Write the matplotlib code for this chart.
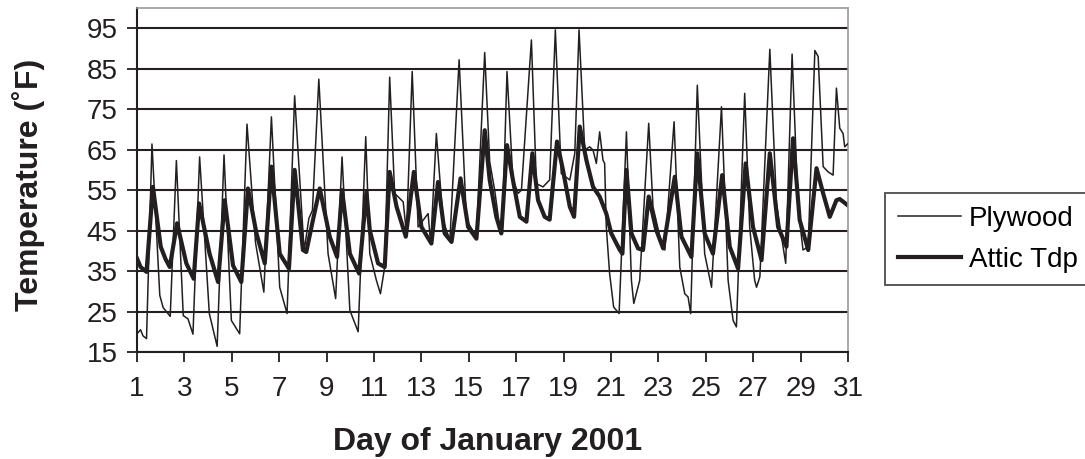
import matplotlib
matplotlib.use("Agg")
import matplotlib.pyplot as plt

plt.rcParams['font.family'] = ['Liberation Sans', 'DejaVu Sans']

ply_day = [1.00, 1.15, 1.25, 1.40, 1.63, 1.96, 2.10, 2.40, 2.66, 2.95, 3.15, 3.36, 3.64, 4.05, 4.38,
           4.67, 4.98, 5.33, 5.64, 6.00, 6.35, 6.67, 7.02, 7.33, 7.65, 8.05, 8.25, 8.40, 8.67, 9.06,
           9.38, 9.65, 9.98, 10.33, 10.65, 10.82, 11.10, 11.27, 11.45, 11.66, 11.87, 12.23, 12.37,
           12.61, 12.86, 13.28, 13.39, 13.63, 13.91, 14.20, 14.59, 14.90, 15.32, 15.67, 15.88, 16.09,
           16.30, 16.41, 16.61, 16.86, 17.08, 17.22, 17.64, 17.85, 18.13, 18.41, 18.65, 18.90, 19.26,
           19.47, 19.65, 19.89, 20.10, 20.24, 20.38, 20.52, 20.66, 20.73, 20.80, 20.94, 21.11, 21.34,
           21.65, 21.86, 21.96, 22.21, 22.59, 22.77, 23.06, 23.27, 23.66, 23.90, 24.11, 24.25, 24.36,
           24.64, 24.95, 25.24, 25.66, 25.94, 26.15, 26.29, 26.64, 26.85, 27.06, 27.14, 27.28, 27.70,
           27.98, 28.26, 28.37, 28.64, 28.89, 29.10, 29.32, 29.60, 29.74, 29.95, 30.16, 30.37, 30.51,
           30.65, 30.79, 30.86, 31.00]
ply_temp = [19.5, 20.5, 19.0, 18.3, 66.4, 29.0, 26.0, 23.8, 62.3, 24.0, 23.2, 19.4, 63.2, 24.5, 16.4,
            63.7, 22.8, 19.5, 71.3, 42.0, 29.8, 73.1, 31.0, 24.5, 78.3, 40.0, 48.0, 50.0, 82.4, 39.3,
            28.2, 63.2, 25.3, 20.0, 68.2, 39.3, 32.7, 29.4, 36.0, 82.9, 54.2, 52.1, 44.3,
            84.3, 45.9, 49.2, 41.8, 69.0, 47.6, 42.6, 87.2, 47.6, 43.5, 89.0, 62.0, 55.0,
            45.9, 44.3, 84.3, 57.5, 54.2, 55.0, 92.1, 56.6, 55.8, 57.5, 94.6, 59.1, 57.5,
            64.1, 94.6, 64.9, 65.7, 64.9, 61.6, 69.4, 62.4, 61.6, 45.9, 34.4, 26.1, 24.5,
            69.4, 32.7, 27.0, 32.7, 71.5, 50.9, 43.5, 40.2, 71.9, 36.0, 29.4, 28.6, 24.5,
            80.9, 39.3, 31.0, 75.6, 32.7, 22.8, 21.2, 78.9, 45.9, 32.7, 31.0, 33.6, 89.8,
            51.7, 41.0, 36.9, 88.6, 50.9, 40.2, 41.0, 89.5, 88.0, 60.8, 59.5, 58.7, 80.2,
            70.3, 69.0, 65.7, 66.5]

attic_day = [1.00, 1.15, 1.40, 1.67, 2.00, 2.20, 2.38, 2.69, 3.08, 3.39, 3.62, 4.06, 4.42, 4.70, 5.05,
             5.40, 5.68, 6.04, 6.39, 6.67, 7.02, 7.41, 7.65, 8.00, 8.14, 8.40, 8.71, 9.13, 9.44, 9.65,
             9.98, 10.37, 10.68, 10.82, 11.17, 11.45, 11.66, 11.95, 12.34, 12.68, 13.00, 13.42, 13.70,
             13.98, 14.27, 14.65, 14.97, 15.32, 15.67, 15.88, 16.16, 16.37, 16.61, 16.86, 17.15, 17.43,
             17.68, 17.92, 18.20, 18.41, 18.72, 18.97, 19.26, 19.44, 19.68, 19.96, 20.24, 20.52, 20.80,
             21.01, 21.37, 21.48, 21.65, 21.86, 22.14, 22.35, 22.59, 22.91, 23.20, 23.69, 23.97, 24.39,
             24.64, 24.95, 25.30, 25.69, 26.01, 26.36, 26.68, 26.99, 27.35, 27.70, 28.05, 28.40, 28.68,
             28.96, 29.32, 29.67, 29.95, 30.23, 30.51, 30.65, 31.00]
attic_temp = [38.1, 36.0, 34.8, 55.8, 41.0, 38.0, 36.0, 46.8, 36.9, 33.1, 51.7, 39.3, 32.3, 52.5, 36.4,
              32.3, 55.4, 44.3, 36.9, 60.8, 39.3, 35.6, 60.0, 40.2, 39.7, 47.0, 55.4, 43.5, 38.5, 55.0,
              39.3, 34.4, 54.6, 45.1, 36.9, 36.0, 59.5, 50.9, 43.5, 59.5, 45.9, 41.8, 57.0,
              44.3, 42.2, 57.9, 45.9, 43.0, 69.8, 57.5, 48.4, 44.3, 66.1, 57.5, 48.4, 47.2,
              64.1, 52.5, 48.4, 47.7, 67.0, 60.0, 50.9, 48.4, 70.7, 62.4, 55.8, 53.4, 49.2,
              44.3, 40.2, 39.3, 60.0, 44.3, 40.6, 40.2, 53.4, 45.1, 40.6, 58.3, 43.5, 38.5,
              64.1, 44.3, 39.3, 58.7, 41.0, 35.6, 61.6, 45.9, 37.7, 64.1, 45.9, 41.0, 67.8,
              47.6, 40.2, 60.4, 54.2, 48.4, 52.5, 52.8, 51.2]

x_ticks = list(range(1, 32, 2))
y_ticks = list(range(15, 96, 10))

ink = '#231f20'
fig = plt.figure(figsize=(10.85, 4.59), dpi=100)
ax = fig.add_axes([0.1263, 0.2331, 0.7816 - 0.1263, 0.9826 - 0.2331])

for yt in y_ticks:
    ax.axhline(yt, color=ink, lw=1.5, zorder=1)

ax.plot(ply_day, ply_temp, color=ink, lw=1.1, label='Plywood', zorder=3)
ax.plot(attic_day, attic_temp, color=ink, lw=3.0, label='Attic Tdp', zorder=2)

ax.set_xlim(1, 31)
ax.set_ylim(15, 100)
ax.set_xticks(x_ticks)
ax.set_yticks(y_ticks)
ax.tick_params(axis='both', labelsize=20, colors=ink, length=7, width=1.3, direction='out')
ax.tick_params(axis='x', pad=10)
ax.tick_params(axis='y', pad=7)
for s in ['left', 'bottom']:
    ax.spines[s].set_color(ink)
    ax.spines[s].set_linewidth(1.5)
for s in ['top', 'right']:
    ax.spines[s].set_color('#9a9a9a')
    ax.spines[s].set_linewidth(1.2)

ax.set_xlabel('Day of January 2001', fontsize=23, fontweight='bold', color=ink)
ax.set_ylabel('Temperature (˚F)', fontsize=23, fontweight='bold', color=ink)
ax.xaxis.set_label_coords(0.493, -0.218)
ax.yaxis.set_label_coords(-0.129, 0.485)

leg = fig.legend(loc='upper left', bbox_to_anchor=(0.8157, 0.5795), fontsize=20,
                 frameon=True, fancybox=False, edgecolor=ink, handlelength=2.27,
                 handletextpad=0.3, borderpad=0.45, labelspacing=0.55, borderaxespad=0)
leg.get_frame().set_linewidth(1.3)

fig.savefig('out.png', dpi=100)
